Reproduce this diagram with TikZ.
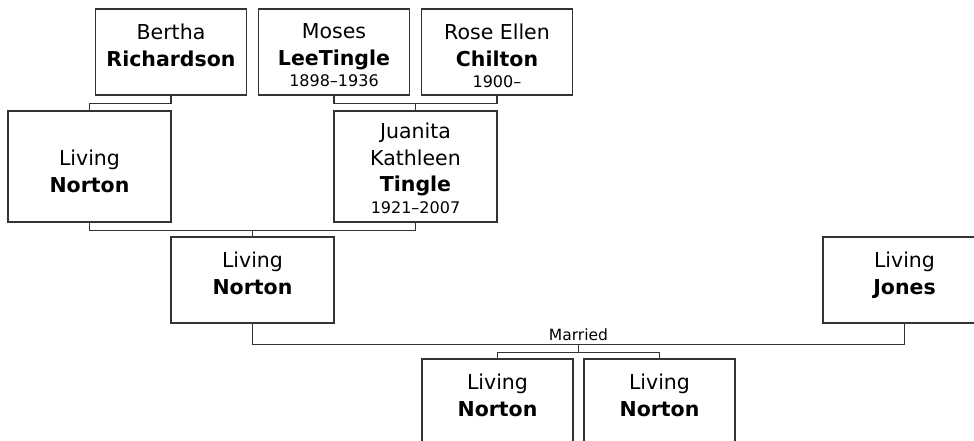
\documentclass[tikz,border=0pt]{standalone}
\usepackage{fontspec}
\setmainfont{DejaVu Sans}
\usetikzlibrary{positioning}
\newcommand{\datefont}{\fontsize{16}{19}\selectfont}

\begin{document}
\begin{tikzpicture}[x=1pt,y=-1pt,
  personbox/.style={draw=black!80,line width=1.3pt,rectangle,inner sep=0pt},
  smallbox/.style={personbox,minimum width=151pt,minimum height=86pt},
  tallbox/.style={personbox,minimum width=163pt,minimum height=111pt},
  widebox/.style={personbox,minimum width=163pt,minimum height=86pt},
  nametext/.style={align=center,inner sep=0pt,font=\fontsize{20.5}{26.5}\selectfont},
  weddingtext/.style={inner sep=3pt,font=\fontsize{15.5}{18}\selectfont},
  link/.style={draw=black!80,line width=1.3pt}]
  \useasboundingbox (0,0) rectangle (974,441);
  \clip (0,0) rectangle (974,441);

  % Grandparents
  \node[smallbox] (bertha) at (171,52) {};
  \node[nametext,below=15.5pt of bertha.north] (bertha-name)
    {Bertha\\\textbf{Richardson}};
  \node[smallbox] (moses) at (334,52) {};
  \node[nametext,below=15.5pt of moses.north] (moses-name)
    {Moses\\\textbf{LeeTingle}\\[-5pt]{\datefont 1898--1936}};
  \node[smallbox] (rose) at (497,52) {};
  \node[nametext,below=15.5pt of rose.north] (rose-name)
    {Rose Ellen\\\textbf{Chilton}\\[-5pt]{\datefont 1900--}};

  % Parents
  \node[tallbox] (dad) at (89.5,166.5) {};
  \node[nametext,below=39.5pt of dad.north] (dad-name)
    {Living\\\textbf{Norton}};
  \node[tallbox] (juanita) at (415.5,166.5) {};
  \node[nametext,below=12.5pt of juanita.north] (juanita-name)
    {Juanita\\Kathleen\\\textbf{Tingle}\\[-5pt]{\datefont 1921--2007}};

  % Couple
  \node[widebox] (self) at (252.5,280) {};
  \node[nametext,below=15.5pt of self.north] (self-name)
    {Living\\\textbf{Norton}};
  \node[widebox] (jones) at (904.5,280) {};
  \node[nametext,below=15.5pt of jones.north] (jones-name)
    {Living\\\textbf{Jones}};

  % Children
  \node[smallbox] (kidA) at (497.5,402) {};
  \node[nametext,below=15.5pt of kidA.north] (kidA-name)
    {Living\\\textbf{Norton}};
  \node[smallbox] (kidB) at (659.5,402) {};
  \node[nametext,below=15.5pt of kidB.north] (kidB-name)
    {Living\\\textbf{Norton}};

  % Connectors
  \draw[link] (bertha.south) -- ++(0,8) -| (dad.north);
  \draw[link] (moses.south) -- ++(0,8) coordinate (mr) -| (rose.south);
  \draw[link] (juanita.north) -- (juanita.north |- mr);
  \draw[link] (dad.south) -- ++(0,8) coordinate (dj) -| (juanita.south);
  \draw[link] (self.north) -- (self.north |- dj);
  \draw[link] (self.south) -- ++(0,21)
    -| node[pos=0.25,above,weddingtext] (married) {Married}
       coordinate[pos=0.25] (wed) (jones.south);
  \draw[link] (wed) -- ++(0,8) coordinate (kids);
  \draw[link] (kidA.north) |- (kids) -| (kidB.north);
\end{tikzpicture}
\end{document}
